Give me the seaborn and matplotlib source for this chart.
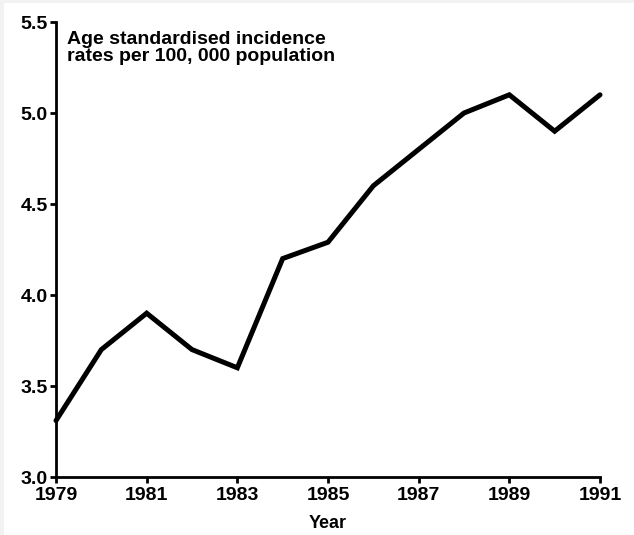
import matplotlib
matplotlib.use("Agg")
import matplotlib.pyplot as plt
import seaborn as sns
import pandas as pd
from matplotlib.patches import Rectangle

years = [1979, 1980, 1981, 1982, 1983, 1984, 1985, 1986, 1987, 1988, 1989, 1990, 1991]
rates = [3.31, 3.70, 3.90, 3.70, 3.60, 4.20, 4.29, 4.60, 4.80, 5.00, 5.10, 4.90, 5.10]
x_ticks = [1979, 1981, 1983, 1985, 1987, 1989, 1991]
y_ticks = [3.0, 3.5, 4.0, 4.5, 5.0, 5.5]
annotation = "Age standardised incidence\nrates per 100, 000 population"

df = pd.DataFrame({"Year": years, "Rate": rates})

sns.set_theme(style="ticks")
plt.rcParams["font.family"] = ["Liberation Sans", "DejaVu Sans"]
plt.rcParams["font.weight"] = "bold"
for k in ["text.color", "axes.labelcolor", "xtick.color", "ytick.color"]:
    plt.rcParams[k] = "black"

fig = plt.figure(figsize=(6.34, 5.35), dpi=100, facecolor="#f2f2f2")
fig.patches.append(Rectangle((4 / 634, 0), 1, 1 - 3 / 535, transform=fig.transFigure,
                             facecolor="white", edgecolor="none", zorder=-10))
ax = fig.add_axes([56 / 634, 58 / 535, 544 / 634, 455 / 535])
ax.set_facecolor("white")
ax.set_zorder(1)

sns.lineplot(data=df, x="Year", y="Rate", ax=ax, color="black", linewidth=3.6,
             solid_joinstyle="miter", clip_on=False)

ax.set_xlim(1979, 1991)
ax.set_ylim(3.0, 5.5)
ax.set_xticks(x_ticks)
ax.set_xticklabels([str(t) for t in x_ticks], fontsize=14, fontweight="bold")
ax.set_yticks(y_ticks)
ax.set_yticklabels([f"{t:.1f}" for t in y_ticks], fontsize=14, fontweight="bold")
ax.tick_params(axis="x", direction="out", length=4, width=2, color="black", pad=3)
ax.tick_params(axis="y", direction="out", length=4, width=2, color="black", pad=2)

for s in ["top", "right"]:
    ax.spines[s].set_visible(False)
for s in ["left", "bottom"]:
    ax.spines[s].set_linewidth(2)
    ax.spines[s].set_color("black")

ax.set_xlabel("Year", fontsize=13, fontweight="bold", labelpad=8)
ax.set_ylabel("")

ax.text(0.02, 0.98, annotation, transform=ax.transAxes, ha="left", va="top",
        fontsize=14, fontweight="bold", linespacing=0.98)

fig.savefig("out.png", dpi=100, facecolor=fig.get_facecolor())
